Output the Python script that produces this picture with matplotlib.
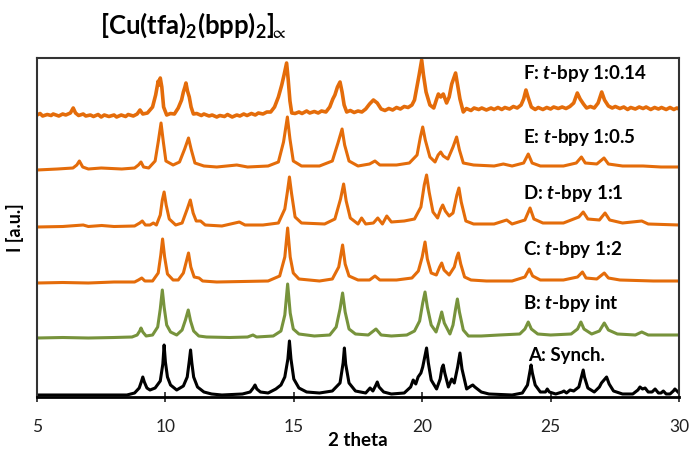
import matplotlib
matplotlib.use("Agg")
import matplotlib.pyplot as plt

plt.rcParams["font.family"] = ["Lato", "DejaVu Sans"]
plt.rcParams["mathtext.fontset"] = "custom"
plt.rcParams["mathtext.rm"] = "Lato:bold"
plt.rcParams["mathtext.it"] = "Lato:italic:bold"
plt.rcParams["mathtext.bf"] = "Lato:bold"
plt.rcParams["mathtext.fallback"] = "stixsans"

# traces as (2 theta, stacked intensity) vertices
A_PTS = [(5, 2), (8.5, 2), (8.8, 4), (8.98, 9), (9.06, 15), (9.12, 20), (9.18, 15), (9.28, 9), (9.4, 7),
         (9.6, 9), (9.8, 16), (9.9, 33), (9.95, 52), (10.0, 35), (10.08, 20), (10.2, 12), (10.44, 7),
         (10.7, 11), (10.85, 20), (10.93, 36), (10.98, 47), (11.03, 34), (11.1, 20), (11.25, 10), (11.5, 5),
         (11.8, 3), (12.2, 2), (13.0, 3), (13.3, 5), (13.42, 9), (13.49, 12), (13.56, 8), (13.7, 5), (14.0, 4),
         (14.3, 8), (14.4, 10), (14.5, 12), (14.65, 20), (14.77, 38), (14.83, 56), (14.89, 38), (15.0, 18),
         (15.2, 9), (15.5, 5), (16.0, 4), (16.5, 6), (16.8, 14), (16.92, 34), (16.97, 49), (17.02, 33),
         (17.15, 14), (17.4, 6), (17.8, 4), (17.97, 9), (18.08, 6), (18.18, 11), (18.25, 15), (18.32, 10),
         (18.5, 5), (18.8, 3), (19.3, 4), (19.55, 10), (19.65, 17), (19.75, 13), (19.84, 20), (19.95, 24),
         (20.02, 30), (20.1, 40), (20.17, 49), (20.24, 34), (20.35, 17), (20.56, 8), (20.7, 18), (20.77, 29),
         (20.82, 32), (20.88, 24), (21.02, 10), (21.15, 18), (21.25, 14), (21.38, 30), (21.47, 44), (21.55, 28),
         (21.73, 8), (21.9, 11), (21.97, 12), (22.05, 10), (22.3, 5), (22.6, 3), (23.5, 2), (23.9, 4),
         (24.1, 12), (24.19, 25), (24.24, 32), (24.29, 24), (24.4, 12), (24.6, 5), (24.8, 5), (24.87, 8),
         (24.95, 5), (25.2, 3), (25.45, 5), (25.52, 6), (25.62, 4), (25.76, 7), (25.9, 6), (26.1, 10),
         (26.22, 22), (26.27, 27), (26.32, 20), (26.45, 9), (26.7, 5), (26.9, 10), (26.98, 14), (27.08, 17),
         (27.18, 20), (27.28, 13), (27.45, 6), (27.8, 3), (28.2, 3), (28.4, 7), (28.48, 10), (28.58, 8),
         (28.68, 9), (28.8, 5), (28.95, 5), (29.07, 8), (29.2, 4), (29.3, 4), (29.39, 6), (29.5, 3), (29.65, 3),
         (29.78, 6), (29.84, 8), (29.92, 6), (30, 4)]

B_PTS = [(5, 59), (6, 59.5), (7, 59), (8, 59.5), (8.7, 60), (8.9, 62), (9.0, 66), (9.05, 69), (9.12, 65),
         (9.25, 61), (9.5, 62), (9.7, 70), (9.8, 88), (9.88, 107), (9.95, 90), (10.05, 72), (10.2, 65),
         (10.44, 62), (10.65, 67), (10.78, 77), (10.89, 87), (10.98, 76), (11.1, 66), (11.3, 61), (11.6, 60),
         (12.5, 59.5), (13.2, 60), (13.41, 62), (13.55, 60), (14.2, 61), (14.5, 66), (14.65, 82), (14.76, 113),
         (14.86, 84), (14.98, 68), (15.2, 63), (15.8, 61), (16.4, 62), (16.65, 70), (16.8, 88), (16.9, 104),
         (17.0, 85), (17.15, 68), (17.4, 63), (17.9, 62), (18.2, 68), (18.4, 62), (18.8, 61), (19.4, 62),
         (19.7, 66), (19.9, 76), (20.02, 94), (20.11, 105), (20.2, 90), (20.35, 72), (20.54, 65), (20.66, 75),
         (20.76, 85), (20.86, 74), (21.08, 63), (21.2, 72), (21.3, 88), (21.37, 98), (21.45, 85), (21.6, 67),
         (21.8, 61), (22.3, 61), (23.0, 62), (23.8, 63), (24.0, 68), (24.13, 75), (24.25, 68), (24.5, 63),
         (25.0, 62), (25.8, 63), (26.05, 68), (26.18, 75), (26.3, 68), (26.6, 63), (26.9, 66), (27.09, 74),
         (27.25, 67), (27.6, 63), (28.3, 62), (28.55, 65), (28.8, 62), (29.5, 62), (30, 62)]

C_PTS = [(5, 114), (6, 114.5), (7, 114), (8, 115), (8.8, 115), (8.95, 117), (9.08, 119), (9.2, 116),
         (9.5, 116), (9.72, 124), (9.82, 142), (9.89, 158), (9.97, 140), (10.08, 123), (10.3, 117), (10.5, 117),
         (10.7, 124), (10.82, 136), (10.9, 144), (10.99, 130), (11.12, 120), (11.31, 119), (11.45, 116),
         (12, 115), (13, 115.5), (14, 116), (14.45, 121), (14.65, 140), (14.76, 169), (14.86, 140), (14.98, 124),
         (15.2, 118), (16, 116), (16.5, 118), (16.75, 130), (16.9, 152), (17.0, 133), (17.15, 121), (17.5, 117),
         (17.95, 117), (18.16, 121), (18.35, 117), (19, 117), (19.6, 119), (19.85, 126), (20.0, 140),
         (20.11, 155), (20.2, 138), (20.35, 124), (20.55, 122), (20.68, 130), (20.76, 134), (20.85, 127),
         (21.05, 122), (21.25, 130), (21.35, 140), (21.41, 144), (21.5, 133), (21.65, 120), (21.9, 117),
         (22.5, 116), (23.5, 116), (24.0, 120), (24.17, 128), (24.3, 121), (24.6, 117), (25.5, 117),
         (26.05, 120), (26.24, 125), (26.38, 119), (26.8, 118), (27.09, 124), (27.25, 119), (27.7, 117),
         (29, 116), (30, 116)]

D_PTS = [(5, 170), (6, 170.5), (6.8, 172), (7, 170.5), (7.52, 171.5), (8, 170.5), (8.8, 171), (9.0, 174),
         (9.1, 176), (9.22, 172), (9.4, 172), (9.53, 174), (9.65, 172), (9.8, 182), (9.88, 197), (9.95, 205),
         (10.03, 192), (10.15, 178), (10.4, 172), (10.65, 174), (10.85, 188), (10.97, 197), (11.08, 184),
         (11.2, 176), (11.37, 176), (11.55, 172), (12.2, 171), (12.88, 175), (13.1, 172), (13.8, 172),
         (14.4, 174), (14.65, 188), (14.75, 205), (14.83, 220), (14.91, 204), (15.05, 180), (15.3, 174),
         (16.2, 173), (16.6, 178), (16.82, 198), (16.94, 213), (17.04, 196), (17.2, 179), (17.5, 173),
         (17.64, 179), (17.8, 173), (18.1, 174), (18.27, 179), (18.45, 173), (18.62, 181), (18.8, 175),
         (19.3, 176), (19.7, 178), (19.95, 190), (20.08, 212), (20.17, 222), (20.27, 205), (20.42, 185),
         (20.6, 179), (20.72, 188), (20.8, 192), (20.9, 186), (21.05, 181), (21.2, 184), (21.35, 202),
         (21.43, 209), (21.52, 195), (21.7, 176), (22, 173), (22.8, 173), (23.29, 177), (23.5, 173), (24.0, 177),
         (24.2, 189), (24.35, 178), (24.7, 174), (25.5, 174), (26.1, 180), (26.27, 185), (26.45, 178),
         (26.9, 177), (27.12, 184), (27.3, 177), (27.8, 174), (28.55, 176), (28.8, 173), (30, 172)]

E_PTS = [(5, 227), (5.8, 228), (6.4, 229), (6.55, 232), (6.65, 236), (6.78, 230), (7, 228), (7.5, 229),
         (8.3, 228), (8.8, 229), (8.95, 232), (9.05, 235), (9.15, 230), (9.35, 229), (9.6, 236), (9.72, 255),
         (9.83, 274), (9.92, 255), (10.02, 236), (10.3, 232), (10.55, 235), (10.75, 248), (10.9, 259),
         (11.0, 248), (11.15, 234), (11.5, 231), (12, 230), (12.78, 232), (13.2, 230), (14, 231), (14.4, 235),
         (14.6, 255), (14.75, 280), (14.85, 258), (14.98, 236), (15.3, 231), (16, 231), (16.5, 236),
         (16.72, 254), (16.88, 268), (16.98, 252), (17.15, 236), (17.5, 231), (17.95, 233), (18.16, 236),
         (18.35, 232), (19, 232), (19.5, 234), (19.8, 242), (19.93, 260), (20.02, 270), (20.12, 257),
         (20.3, 240), (20.5, 235), (20.62, 242), (20.72, 245), (20.82, 241), (21.0, 238), (21.2, 250),
         (21.34, 260), (21.45, 247), (21.6, 234), (22, 232), (22.8, 231), (23.16, 233), (23.5, 231),
         (23.95, 234), (24.13, 243), (24.28, 234), (24.6, 231), (25.5, 231), (26.0, 234), (26.2, 240),
         (26.35, 234), (26.8, 233), (27.08, 239), (27.25, 233), (27.8, 231), (28.6, 231), (29.3, 230), (30, 230)]

F_PTS = [(5, 282), (5.12, 283.5), (5.22, 281), (5.4, 282.5), (5.55, 281.5), (5.63, 283), (5.85, 281),
         (6.0, 283), (6.12, 282), (6.3, 284), (6.41, 289), (6.5, 284), (6.62, 281.5), (6.8, 283), (6.9, 281),
         (7.08, 282), (7.2, 280.5), (7.38, 282.5), (7.5, 280), (7.62, 282), (7.8, 280.5), (8.0, 282),
         (8.1, 280), (8.28, 282), (8.45, 280.5), (8.55, 282.5), (8.75, 281), (8.9, 283), (9.01, 287),
         (9.12, 283), (9.3, 284), (9.5, 290), (9.62, 302), (9.72, 316), (9.76, 312), (9.8, 319), (9.86, 310),
         (9.93, 290), (10.05, 282), (10.2, 283.5), (10.35, 283), (10.5, 289), (10.63, 297), (10.7, 305),
         (10.76, 310), (10.8, 314), (10.86, 306), (10.93, 300), (11.0, 290), (11.09, 283), (11.22, 283.5),
         (11.4, 281.5), (11.5, 283), (11.7, 281), (11.82, 282), (12.0, 280), (12.12, 281.5), (12.3, 280.5),
         (12.42, 282.5), (12.6, 280), (12.78, 282), (12.9, 281), (13.05, 283), (13.18, 281.5), (13.35, 283.5),
         (13.5, 282), (13.62, 284), (13.8, 283), (13.95, 285), (14.1, 285), (14.25, 290), (14.4, 300),
         (14.53, 312), (14.62, 322), (14.72, 334), (14.78, 318), (14.85, 296), (14.92, 284), (15.05, 283.5),
         (15.2, 285), (15.32, 283.5), (15.5, 286), (15.62, 284), (15.8, 285.5), (15.95, 284), (16.08, 286),
         (16.25, 285), (16.4, 290), (16.52, 298), (16.6, 302), (16.7, 310), (16.8, 315), (16.88, 305),
         (16.96, 292), (17.06, 285), (17.2, 286.5), (17.35, 284.5), (17.5, 286), (17.65, 285), (17.8, 288),
         (17.95, 293), (18.1, 297), (18.25, 294), (18.4, 288), (18.55, 286.5), (18.7, 288.5), (18.85, 287),
         (19.0, 289.5), (19.15, 288), (19.3, 290.5), (19.45, 289.5), (19.6, 292), (19.7, 297), (19.78, 308),
         (19.88, 322), (19.98, 337), (20.05, 322), (20.15, 305), (20.3, 292), (20.45, 289), (20.55, 297),
         (20.63, 303), (20.72, 300), (20.82, 303), (20.95, 294), (21.05, 300), (21.15, 313), (21.22, 318),
         (21.3, 324), (21.38, 312), (21.47, 298), (21.6, 285), (21.72, 288.5), (21.9, 286.5), (22.02, 289),
         (22.2, 287.5), (22.32, 289), (22.5, 287), (22.68, 289), (22.8, 287.5), (22.95, 289.5), (23.1, 287.5),
         (23.22, 289.5), (23.4, 288), (23.55, 290.5), (23.7, 289), (23.85, 292), (23.95, 298), (24.04, 307),
         (24.12, 300), (24.25, 290), (24.4, 287.5), (24.52, 289.5), (24.7, 287.5), (24.85, 289.5),
         (25.0, 288), (25.12, 290), (25.3, 288.5), (25.45, 290), (25.6, 288.5), (25.75, 290.5), (25.9, 294),
         (26.04, 304), (26.15, 298), (26.28, 293), (26.4, 289), (26.55, 290.5), (26.7, 289), (26.85, 294),
         (26.99, 305), (27.1, 297), (27.25, 291), (27.4, 289), (27.52, 290.5), (27.7, 288.5), (27.85, 290),
         (28.0, 287.5), (28.12, 289.5), (28.3, 288), (28.45, 290), (28.6, 288.5), (28.72, 290), (28.9, 287.5),
         (29.05, 289.5), (29.2, 288), (29.32, 289.5), (29.5, 287.5), (29.65, 289.5), (29.8, 287.5),
         (29.92, 289), (30, 288)]

labels = ["A: Synch.", "B: $t$-bpy int", "C: $t$-bpy 1:2", "D: $t$-bpy 1:1",
          "E: $t$-bpy 1:0.5", "F: $t$-bpy 1:0.14"]
label_x = [24.12, 23.93, 23.93, 23.93, 23.93, 23.93]
label_y = [42, 94, 148, 204, 259, 324]

ORANGE = "#E46C0A"
GREEN = "#77933C"
traces = [(A_PTS, "black", 2.2), (B_PTS, GREEN, 2.2), (C_PTS, ORANGE, 2.2),
          (D_PTS, ORANGE, 2.2), (E_PTS, ORANGE, 2.2), (F_PTS, ORANGE, 2.6)]

fig = plt.figure(figsize=(6.91, 4.5), dpi=100)
ax = fig.add_axes([37 / 691, 1 - 397 / 450, 642 / 691, 339 / 450])

for pts, col, lw in traces:
    xs = [p[0] for p in pts]
    ys = [p[1] for p in pts]
    ax.plot(xs, ys, color=col, lw=lw, solid_joinstyle="round")

for lab, lx, ly in zip(labels, label_x, label_y):
    ax.text(lx, ly, lab, fontsize=13.5, fontweight="bold", va="center", ha="left")

ax.set_xlim(5, 30)
ax.set_ylim(0, 339)
ax.set_xticks([5, 10, 15, 20, 25, 30])
ax.set_yticks([])
ax.tick_params(axis="x", direction="inout", length=7, width=1.2, pad=12,
               labelsize=12.5, colors="#222222")
for side in ["left", "top", "right"]:
    ax.spines[side].set_color("#333333")
    ax.spines[side].set_linewidth(1.5)
ax.spines["bottom"].set_color("black")
ax.spines["bottom"].set_linewidth(2)

ax.set_xlabel("2 theta", fontsize=13.5, fontweight="bold", labelpad=-2)
ax.set_ylabel("I [a.u.]", fontsize=13, fontweight="bold", labelpad=9)

fig.text(100 / 691, 1 - 25 / 450, r"$\mathrm{[Cu(tfa)_2(bpp)_2]_{\!\!\propto}}$",
         fontsize=18.5, va="center", ha="left")

fig.savefig("out.png", dpi=100)
